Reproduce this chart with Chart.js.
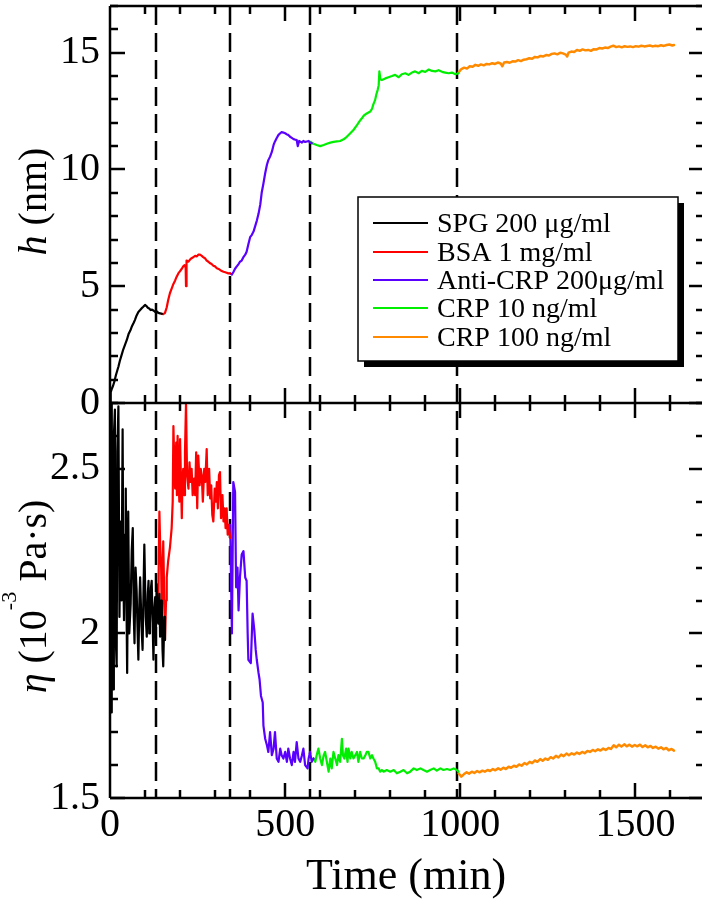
<!DOCTYPE html>
<html>
<head>
<meta charset="utf-8">
<title>Film thickness and viscosity vs time</title>
<script src="https://cdn.jsdelivr.net/npm/chart.js@4.4.1/dist/chart.umd.min.js"></script>
<style>
  html, body { margin: 0; padding: 0; background: #fff; }
  #wrap { width: 702px; height: 909px; }
</style>
</head>
<body>
<div id="wrap"><canvas id="chart" width="702" height="909"></canvas></div>
<script>
/* ---------- data (time in min, value) ---------- */

// injection times (dashed lines)
const stepTimes = [130, 343, 571, 991];

// labelled ticks
const timeTicks = [0, 500, 1000, 1500];
const hTicks = [0, 5, 10, 15];
const etaTicks = [1.5, 2, 2.5];

const seriesLabels = ['SPG 200 \u03bcg/ml', 'BSA 1 mg/ml', 'Anti-CRP 200\u03bcg/ml', 'CRP 10 ng/ml', 'CRP 100 ng/ml'];
const seriesColors = ['#000000', '#ff0000', '#5a00ff', '#00ee00', '#ff8a00'];

// top panel: h (nm)
const hSPG = [[0,0],[2,0.45],[5,0.6],[9,0.75],[13,0.95],[17,1.2],[21,1.4],[24,1.55],[28,1.8],[33,2.05],[38,2.3],[43,2.5],[48,2.7],[53,2.95],[58,3.1],[63,3.3],[68,3.45],[71,3.55],[76,3.75],[81,3.9],[86,3.98],[90,4.05],[95,4.12],[100,4.2],[104,4.15],[108,4.08],[112,4.05],[116,3.98],[120,4.0],[125,3.95],[129,3.9],[134,3.92],[138,3.86],[143,3.84],[148,3.82]];
const hBSA = [[148,3.82],[152,3.8],[157,3.86],[162,4.1],[166,4.4],[171,4.7],[176,4.9],[181,5.1],[186,5.25],[190,5.4],[195,5.55],[200,5.65],[205,5.75],[209,5.85],[213,5.9],[216,5.8],[217,5.0],[218,5.85],[219,6.1],[224,6.05],[229,6.15],[233,6.2],[238,6.25],[243,6.3],[248,6.28],[252,6.35],[257,6.35],[262,6.3],[266,6.25],[271,6.2],[276,6.1],[281,6.05],[286,5.98],[290,5.95],[295,5.88],[300,5.85],[305,5.77],[310,5.74],[314,5.7],[319,5.65],[324,5.62],[329,5.6],[333,5.58],[338,5.55],[343,5.55]];
const hAnti = [[343,5.55],[348,5.5],[352,5.6],[357,5.75],[362,5.85],[367,5.95],[371,6.05],[376,6.1],[381,6.25],[386,6.35],[390,6.48],[395,6.8],[400,7.1],[405,7.2],[410,7.35],[414,7.55],[419,7.8],[424,8.1],[429,8.5],[433,9.0],[438,9.4],[443,9.84],[448,10.2],[452,10.4],[457,10.55],[462,10.75],[467,11.05],[471,11.2],[476,11.35],[481,11.48],[486,11.55],[490,11.6],[495,11.58],[500,11.55],[505,11.5],[509,11.48],[514,11.4],[519,11.35],[524,11.3],[528,11.28],[533,11.26],[536,11.0],[540,11.22],[548,11.15],[552,11.22],[557,11.18],[562,11.2],[567,11.22],[571,11.15],[576,11.12]];
const hCRP10 = [[571,11.19],[581,11.1],[590,11.05],[600,11.0],[610,11.05],[619,11.1],[629,11.15],[638,11.18],[648,11.2],[657,11.22],[667,11.29],[676,11.4],[686,11.55],[695,11.69],[705,11.9],[714,12.1],[719,12.19],[724,12.3],[733,12.4],[743,12.48],[748,12.6],[752,12.8],[757,12.98],[760,13.2],[764,13.4],[767,13.6],[769,14.2],[772,13.85],[776,13.83],[786,13.9],[795,13.95],[805,14.0],[814,14.05],[824,13.95],[833,14.08],[843,14.12],[852,14.05],[862,14.15],[871,14.2],[881,14.12],[890,14.22],[900,14.18],[910,14.28],[919,14.22],[929,14.2],[938,14.25],[948,14.18],[957,14.15],[967,14.12],[976,14.15],[986,14.08],[995,14.12]];
const hCRP100 = [[995,14.15],[1003,14.3],[1011,14.36],[1019,14.32],[1027,14.42],[1035,14.4],[1043,14.48],[1051,14.44],[1059,14.5],[1067,14.46],[1075,14.52],[1083,14.5],[1091,14.55],[1099,14.52],[1107,14.58],[1115,14.54],[1120,14.42],[1125,14.58],[1133,14.6],[1141,14.57],[1149,14.63],[1157,14.62],[1165,14.68],[1173,14.64],[1181,14.7],[1189,14.72],[1197,14.76],[1205,14.74],[1213,14.82],[1221,14.8],[1229,14.86],[1237,14.84],[1245,14.9],[1253,14.88],[1261,14.95],[1269,14.97],[1277,14.93],[1285,15.0],[1293,14.97],[1301,14.92],[1305,14.84],[1309,15.0],[1317,15.05],[1325,15.03],[1333,15.12],[1341,15.08],[1349,15.14],[1357,15.1],[1365,15.12],[1373,15.08],[1381,15.15],[1389,15.14],[1397,15.2],[1405,15.18],[1413,15.22],[1421,15.2],[1429,15.26],[1437,15.3],[1445,15.24],[1453,15.27],[1461,15.23],[1469,15.28],[1477,15.25],[1485,15.27],[1493,15.24],[1501,15.28],[1509,15.26],[1517,15.3],[1525,15.27],[1533,15.29],[1541,15.31],[1549,15.27],[1557,15.3],[1565,15.28],[1573,15.32],[1581,15.29],[1589,15.33],[1597,15.35],[1605,15.31],[1610,15.33]];

// bottom panel: eta (10^-3 Pa s)
const etaSPG = [[0,2.3],[2,2.65],[3,1.76],[5,2.7],[7,1.95],[9,1.83],[11,2.6],[14,2.68],[16,2.0],[19,1.9],[21,2.55],[24,2.69],[27,2.05],[30,2.34],[33,2.1],[36,2.62],[38,2.2],[40,2.04],[43,2.3],[45,2.44],[47,2.1],[49,1.88],[52,2.37],[55,2.0],[59,2.09],[62,2.25],[65,2.32],[68,2.05],[70,1.97],[73,2.2],[76,2.13],[79,2.0],[81,1.92],[84,2.1],[86,2.17],[90,2.02],[93,1.95],[96,2.15],[98,2.27],[102,2.05],[105,1.99],[108,2.12],[110,2.16],[112,2.0],[114,2.03],[117,2.14],[119,2.16],[122,2.02],[124,1.92],[127,2.08],[129,2.11],[131,2.0],[133,2.15],[136,2.05],[138,2.03],[141,2.12],[143,1.99],[146,2.1],[148,2.07],[150,1.95],[152,1.9],[155,2.05],[157,1.98]];
const etaBSA = [[138,2.1],[141,2.37],[143,2.28],[146,2.2],[148,2.04],[152,2.28],[155,2.1],[157,1.98],[160,2.1],[162,2.17],[166,2.22],[171,2.26],[176,2.32],[179,2.4],[181,2.63],[184,2.5],[186,2.44],[189,2.58],[191,2.42],[193,2.6],[195,2.49],[198,2.4],[200,2.59],[203,2.45],[205,2.35],[207,2.47],[209,2.5],[212,2.42],[214,2.55],[217,2.7],[220,2.48],[224,2.44],[227,2.52],[230,2.46],[233,2.5],[236,2.42],[240,2.47],[243,2.42],[246,2.55],[249,2.38],[252,2.54],[256,2.45],[259,2.5],[262,2.48],[265,2.4],[269,2.5],[272,2.46],[276,2.56],[279,2.42],[283,2.5],[286,2.41],[289,2.45],[292,2.36],[295,2.34],[299,2.44],[302,2.4],[305,2.46],[308,2.38],[311,2.48],[314,2.49],[317,2.35],[321,2.42],[324,2.34],[327,2.38],[330,2.32],[333,2.38],[336,2.3],[339,2.33],[343,2.29]];
const etaAnti = [[343,2.33],[348,2.0],[352,2.46],[357,2.43],[360,2.14],[364,2.2],[367,2.07],[371,2.17],[376,2.24],[381,2.25],[386,2.17],[390,2.16],[393,2.0],[395,1.92],[402,1.91],[407,2.06],[412,2.01],[416,1.95],[419,1.92],[424,1.88],[427,1.86],[431,1.81],[436,1.79],[438,1.72],[443,1.68],[448,1.66],[452,1.64],[457,1.7],[462,1.63],[467,1.65],[471,1.7],[476,1.62],[481,1.61],[486,1.65],[490,1.63],[495,1.62],[500,1.64],[505,1.61],[509,1.65],[514,1.62],[519,1.6],[524,1.64],[528,1.61],[533,1.67],[538,1.62],[543,1.61],[548,1.63],[552,1.65],[557,1.6],[564,1.59],[567,1.62],[571,1.64],[576,1.61],[581,1.62]];
const etaCRP10 = [[581,1.62],[586,1.61],[590,1.63],[595,1.65],[600,1.62],[605,1.6],[610,1.63],[614,1.64],[619,1.61],[624,1.58],[629,1.62],[633,1.59],[638,1.64],[643,1.62],[648,1.6],[652,1.63],[657,1.61],[662,1.68],[665,1.63],[669,1.62],[674,1.65],[678,1.61],[681,1.65],[686,1.62],[690,1.64],[695,1.62],[700,1.63],[705,1.64],[709,1.61],[714,1.64],[719,1.62],[724,1.62],[729,1.63],[733,1.64],[738,1.64],[743,1.62],[748,1.63],[752,1.62],[757,1.61],[762,1.59],[767,1.59],[771,1.58],[776,1.585],[781,1.58],[790,1.585],[800,1.58],[810,1.585],[819,1.575],[829,1.58],[838,1.585],[848,1.575],[857,1.58],[867,1.59],[876,1.585],[886,1.59],[895,1.585],[905,1.58],[914,1.585],[924,1.59],[933,1.583],[943,1.59],[952,1.585],[962,1.588],[971,1.585],[981,1.59],[990,1.585],[995,1.58]];
const etaCRP100 = [[995,1.575],[1003,1.565],[1010,1.572],[1018,1.578],[1025,1.574],[1033,1.58],[1040,1.576],[1048,1.582],[1055,1.578],[1063,1.583],[1070,1.58],[1078,1.585],[1085,1.582],[1093,1.588],[1100,1.584],[1108,1.59],[1115,1.586],[1123,1.592],[1130,1.588],[1138,1.595],[1145,1.592],[1153,1.598],[1160,1.595],[1168,1.602],[1175,1.598],[1183,1.606],[1190,1.602],[1198,1.61],[1205,1.606],[1213,1.614],[1220,1.61],[1228,1.618],[1235,1.613],[1243,1.62],[1250,1.616],[1258,1.624],[1265,1.62],[1273,1.628],[1280,1.623],[1288,1.632],[1295,1.627],[1303,1.635],[1310,1.63],[1318,1.636],[1325,1.632],[1333,1.638],[1340,1.634],[1348,1.64],[1355,1.636],[1363,1.643],[1370,1.64],[1378,1.646],[1385,1.642],[1393,1.648],[1400,1.644],[1408,1.65],[1415,1.646],[1423,1.652],[1430,1.649],[1438,1.66],[1445,1.654],[1453,1.662],[1460,1.656],[1468,1.663],[1475,1.657],[1483,1.662],[1490,1.656],[1498,1.661],[1505,1.657],[1513,1.662],[1520,1.655],[1528,1.66],[1535,1.654],[1543,1.658],[1550,1.652],[1558,1.656],[1565,1.65],[1573,1.654],[1580,1.648],[1588,1.652],[1595,1.645],[1603,1.649],[1610,1.644]];

/* ---------- chart ---------- */

const FONT = "'Liberation Serif', 'Times New Roman', serif";
const toPoints = arr => arr.map(p => ({ x: p[0], y: p[1] }));

const hSeries = [hSPG, hBSA, hAnti, hCRP10, hCRP100];
const etaSeries = [etaSPG, etaBSA, etaAnti, etaCRP10, etaCRP100];

const datasets = [];
hSeries.forEach((s, i) => datasets.push({
    label: seriesLabels[i], data: toPoints(s), yAxisID: 'yH',
    borderColor: seriesColors[i], borderWidth: i === 4 ? 2.5 : 2.2
}));
etaSeries.forEach((s, i) => datasets.push({
    label: seriesLabels[i], data: toPoints(s), yAxisID: 'yEta',
    borderColor: seriesColors[i], borderWidth: i === 4 ? 2.5 : 2.2
}));

// minor/major tick spacing for the inward ticks
const tickSpec = {
    x: { minor: 100, major: 500 },
    yH: { minor: 1, major: 5 },
    yEta: { minor: 0.1, major: 0.5 }
};

// fixed ticks + no reserved label padding, so the plot area is exact
function fixedTicks(values) {
    return function (s) { s.ticks = values.map(v => ({ value: v })); };
}
function fitY(s) {
    s.width = 110;
    s.paddingTop = 0;
    s.paddingBottom = 0;
}

function drawRuns(ctx, cx, cy, runs) {
    ctx.save();
    ctx.translate(cx, cy);
    ctx.rotate(-Math.PI / 2);
    ctx.textBaseline = 'alphabetic';
    ctx.fillStyle = '#000';
    let total = 0;
    runs.forEach(r => { ctx.font = r.font; r.w = ctx.measureText(r.text).width; total += r.w; });
    let pos = -total / 2;
    runs.forEach(r => { ctx.font = r.font; ctx.fillText(r.text, pos, r.dy || 0); pos += r.w; });
    ctx.restore();
}

function seg(ctx, x0, y0, x1, y1) {
    ctx.beginPath();
    ctx.moveTo(x0, y0);
    ctx.lineTo(x1, y1);
    ctx.stroke();
}

const framePlugin = {
    id: 'frame',
    beforeDatasetsDraw(chart) {
        const { ctx, chartArea: a, scales } = chart;
        ctx.save();
        ctx.strokeStyle = '#000';
        ctx.lineWidth = 2.5;
        ctx.setLineDash([19, 8]);
        stepTimes.forEach(t => {
            const px = Math.round(scales.x.getPixelForValue(t));
            seg(ctx, px, a.top, px, a.bottom);
        });
        ctx.restore();
    },
    afterDatasetsDraw(chart) {
        const { ctx, chartArea: a, scales } = chart;
        const xs = scales.x;
        const panels = [scales.yH, scales.yEta];
        ctx.save();
        ctx.setLineDash([]);
        ctx.strokeStyle = '#000';
        ctx.lineWidth = 2.5;
        ctx.lineCap = 'butt';

        // frame + panel divider
        const mid = Math.round(scales.yH.bottom);
        seg(ctx, a.left, a.top, a.right + 2, a.top);
        seg(ctx, a.left, a.top, a.left, a.bottom);
        seg(ctx, a.left, a.bottom, a.right + 2, a.bottom);
        seg(ctx, a.left, mid, a.right + 2, mid);

        // x ticks on both panel edges, pointing inwards
        const xTop = 1690;
        for (let v = tickSpec.x.minor; v <= xTop; v += tickSpec.x.minor) {
            const px = Math.round(xs.getPixelForValue(v));
            const len = (v % tickSpec.x.major === 0) ? 15 : 8;
            panels.forEach(s => {
                seg(ctx, px, s.top, px, s.top + len);
                seg(ctx, px, s.bottom, px, s.bottom - len);
            });
        }
        // y ticks left + right, pointing inwards
        ['yH', 'yEta'].forEach(id => {
            const s = scales[id];
            const spec = tickSpec[id];
            const n = Math.round((s.max - s.min) / spec.minor);
            for (let k = 0; k <= n; k++) {
                const v = s.min + k * spec.minor;
                const r = v / spec.major;
                const major = Math.abs(r - Math.round(r)) < 1e-6;
                const len = major ? 15 : 8;
                const py = Math.round(s.getPixelForValue(v));
                seg(ctx, a.left, py, a.left + len, py);
                seg(ctx, a.right, py, a.right - len + 2, py);
            }
        });

        // legend box with drop shadow
        const box = { l: 358, t: 197, r: 678, b: 361 };
        ctx.fillStyle = '#000';
        ctx.fillRect(box.l + 6, box.t + 6, box.r - box.l, box.b - box.t);
        ctx.fillStyle = '#fff';
        ctx.fillRect(box.l, box.t, box.r - box.l, box.b - box.t);
        ctx.lineWidth = 1.5;
        ctx.strokeRect(box.l, box.t, box.r - box.l, box.b - box.t);
        const rows = [223, 252, 280, 308, 337];
        ctx.font = '28px ' + FONT;
        ctx.textBaseline = 'middle';
        ctx.textAlign = 'left';
        seriesLabels.forEach((lab, i) => {
            ctx.strokeStyle = seriesColors[i];
            ctx.lineWidth = 2;
            seg(ctx, 373, rows[i], 428, rows[i]);
            ctx.fillStyle = '#000';
            ctx.fillText(lab, 437, rows[i] + 2);
        });
        ctx.restore();

        // y axis titles (mixed italic / superscript)
        const topMid = (scales.yH.top + scales.yH.bottom) / 2;
        const botMid = (scales.yEta.top + scales.yEta.bottom) / 2;
        drawRuns(ctx, 46, topMid - 3, [
            { text: 'h', font: 'italic 40px ' + FONT },
            { text: ' (nm)', font: '40px ' + FONT }
        ]);
        drawRuns(ctx, 46, botMid - 4, [
            { text: '\u03b7', font: 'italic 40px ' + FONT },
            { text: ' (10', font: '40px ' + FONT },
            { text: '-3', font: '22px ' + FONT, dy: -30 },
            { text: ' Pa\u00b7s)', font: '40px ' + FONT }
        ]);
    }
};

const tickFont = { family: FONT, size: 40 };
const label = v => String(v);

const ctx = document.getElementById('chart').getContext('2d');
const chart = new Chart(ctx, {
    type: 'line',
    data: { datasets },
    options: {
        responsive: false,
        animation: false,
        devicePixelRatio: 1,
        layout: { padding: { left: 0, right: 0, top: 6, bottom: 0 } },
        elements: { point: { radius: 0 }, line: { tension: 0, borderCapStyle: 'round', borderJoinStyle: 'round' } },
        plugins: { legend: { display: false }, tooltip: { enabled: false } },
        scales: {
            x: {
                type: 'linear', min: 0, max: 1690,
                grid: { display: false, drawTicks: false },
                border: { display: false },
                afterBuildTicks: fixedTicks(timeTicks),
                ticks: { autoSkip: false, maxRotation: 0, padding: 3, color: '#000', font: tickFont, callback: label },
                title: { display: true, text: 'Time (min)', color: '#000', font: { family: FONT, size: 44 }, padding: { top: 0, bottom: 5 } },
                afterFit(s) { s.height = 111; s.paddingLeft = 0; s.paddingRight = 0; }
            },
            yEta: {
                type: 'linear', position: 'left', stack: 'panels', stackWeight: 395,
                min: 1.5, max: 2.7,
                grid: { display: false, drawTicks: false },
                border: { display: false },
                afterBuildTicks: fixedTicks(etaTicks),
                ticks: { autoSkip: false, padding: 10, color: '#000', font: tickFont, callback: label },
                afterFit: fitY
            },
            yH: {
                type: 'linear', position: 'left', stack: 'panels', stackWeight: 397,
                min: 0, max: 17,
                grid: { display: false, drawTicks: false },
                border: { display: false },
                afterBuildTicks: fixedTicks(hTicks),
                ticks: { autoSkip: false, padding: 10, color: '#000', font: tickFont, callback: label },
                afterFit: fitY
            }
        }
    },
    plugins: [framePlugin]
});
</script>
</body>
</html>
